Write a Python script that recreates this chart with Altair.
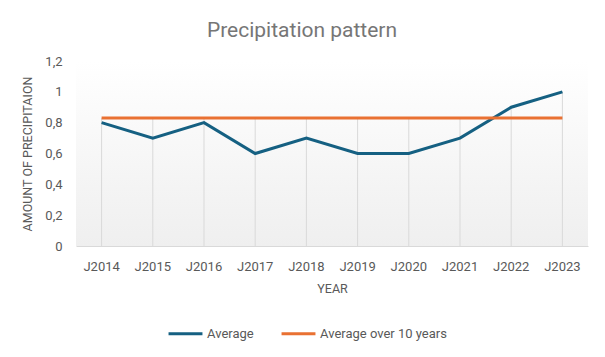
import altair as alt
import pandas as pd

years = ["J2014", "J2015", "J2016", "J2017", "J2018", "J2019", "J2020", "J2021", "J2022", "J2023"]
average = [0.8, 0.7, 0.8, 0.6, 0.7, 0.6, 0.6, 0.7, 0.9, 1.0]
avg10 = [0.83] * 10
series_names = ["Average", "Average over 10 years"]
colors = ["#156082", "#E97132"]
y_ticks = [0, 0.2, 0.4, 0.6, 0.8, 1.0, 1.2]

rows = []
for y, a in zip(years, average):
    rows.append({"year": y, "value": a, "series": series_names[0]})
for y, a in zip(years, avg10):
    rows.append({"year": y, "value": a, "series": series_names[1]})
df = pd.DataFrame(rows)
drop = pd.DataFrame({"year": years, "top": [max(a, b) for a, b in zip(average, avg10)], "zero": [0] * 10})

FONT = "Roboto"
GRAY = "#595959"
W, H = 512, 185

bg = alt.Chart(pd.DataFrame({"k": [0]})).mark_rect(
    color=alt.LinearGradient(gradient="linear", x1=0, x2=0, y1=0, y2=1,
                             stops=[alt.GradientStop(color="#ffffff", offset=0),
                                    alt.GradientStop(color="#efefef", offset=1)])
).encode(x=alt.value(0), x2=alt.value(W), y=alt.value(0), y2=alt.value(H))

xaxis = alt.Axis(labelAngle=0, ticks=False, domainColor="#d9d9d9", labelPadding=14,
                 labelFontSize=13, labelColor=GRAY, titleFontSize=12.5,
                 titleFontWeight="normal", titleColor=GRAY, titlePadding=9,
                 labelFont=FONT, titleFont=FONT, labelOverlap=False)
yaxis = alt.Axis(values=y_ticks, grid=False, ticks=False,
                 domain=False, labelPadding=14, labelFontSize=13, labelColor=GRAY,
                 labelExpr="replace(format(datum.value, '.1~f'), '.', ',')",
                 labelOverlap=False,
                 titleFontSize=12.5, titleFontWeight="normal", titleColor=GRAY,
                 titlePadding=10, labelFont=FONT, titleFont=FONT)
yscale = alt.Scale(domain=[0, 1.2], nice=False)
xscale = alt.Scale(paddingInner=1, paddingOuter=0.5)

rules = alt.Chart(drop).mark_rule(color="#d9d9d9", strokeWidth=1).encode(
    x=alt.X("year:N", sort=years, title="YEAR", scale=xscale, axis=xaxis),
    y=alt.Y("zero:Q", title="AMOUNT OF PRECIPITAION", scale=yscale, axis=yaxis),
    y2="top:Q",
)

lines = alt.Chart(df).mark_line(strokeWidth=3).encode(
    x=alt.X("year:N", sort=years, title="YEAR", scale=xscale, axis=xaxis),
    y=alt.Y("value:Q", title="AMOUNT OF PRECIPITAION", scale=yscale, axis=yaxis),
    color=alt.Color("series:N", scale=alt.Scale(domain=series_names, range=colors),
                    legend=alt.Legend(title=None, orient="none", direction="horizontal",
                                      legendX=91, legendY=254, symbolType="stroke",
                                      symbolSize=1150, symbolStrokeWidth=3, labelFontSize=13,
                                      labelColor=GRAY, labelFont=FONT, columnPadding=21,
                                      labelOffset=3)),
    order=alt.Order("series:N"),
)

chart = alt.layer(bg, rules, lines).properties(
    width=W,
    height=H,
    autosize=alt.AutoSizeParams(type="none"),
    padding={"left": 68, "top": 53, "right": 9, "bottom": 103},
    title=alt.TitleParams("Precipitation pattern", fontSize=21, fontWeight="normal", color="#767676",
                          font=FONT, anchor="middle", dx=-30, offset=14),
).configure_view(stroke="transparent")

chart.save("out.html", embed_options={"renderer": "svg", "actions": False})
